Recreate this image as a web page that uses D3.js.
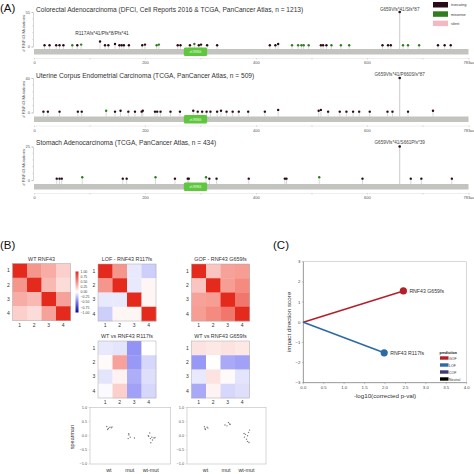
<!DOCTYPE html>
<html><head><meta charset="utf-8">
<script src="https://cdn.jsdelivr.net/npm/d3@7"></script>
<style>body{margin:0;background:#fff}svg{font-family:"Liberation Sans",Arial,sans-serif;display:block}</style>
</head><body><svg id="c" width="474" height="474"></svg>
<script>
// ---------- DATA ----------
const proteinLength = 783;
const aaTickLabels = [0, 200, 400, 600];
const aaMinorTicks = [100, 300, 500, 700];
const studyTitles = [
  "Colorectal Adenocarcinoma (DFCI, Cell Reports 2016 & TCGA, PanCancer Atlas, n = 1213)",
  "Uterine Corpus Endometrial Carcinoma (TCGA, PanCancer Atlas, n = 509)",
  "Stomach Adenocarcinoma (TCGA, PanCancer Atlas, n = 434)"
];
const studyYMax = [55, 40, 25];
const hotspotPos = 659;
const hotspotCounts = [55, 40, 25];
const hotspotLabels = ["G659Vfs*41/Sfs*87", "G659Vfs*41/P660Sfs*87", "G659Vfs*41/S661Pfs*39"];
const r117Label = "R117Afs*41/Pfs*8/Pfs*41";
const domainName = "zf-RING";
const domainStart = 270, domainEnd = 312;

const crcPos = [19,28,40,46,53, 69,78,85,119,128, 134,146,154,158,162, 171,195,200,221,225, 259,264,281,289,297,
  301,312,330,425,435, 440,465,476,482,486, 495,517,521,527,536, 553,568,628,638,643, 665,674,694,728,740, 751];
const crcCnt = [2,2,2,2,2, 2,2,3,8,2, 2,4,2,2,2, 2,2,3,2,3, 2,2,2,4,2,
  3,2,2,2,2, 4,2,2,2,2, 2,2,2,2,2, 2,2,2,2,2, 2,2,2,2,2, 2];
const crcType = ["T","T","T","T","T", "M","T","M","T","T", "T","T","T","T","T", "T","T","T","M","M", "T","T","T","M","T",
  "T","T","T","T","T", "T","M","M","M","M", "M","T","T","T","M", "M","M","T","T","T", "M","M","M","T","T", "T"];

const ucecPos = [17,25,46,79,86, 130,146,156,170,182, 194,196,218,222,228, 246,263,287,295,303,
  311,318,330,337,347, 358,369,386,416,440, 513,517,530,551,563, 575,586,605,637,646, 674,719];
const ucecCnt = [1,1,1,1,1, 2,1,2,1,1, 1,2,1,1,1, 1,1,2,1,1, 1,1,1,2,1, 1,1,1,1,3, 2,3,1,1,1, 1,1,1,1,1, 1,2];
const ucecType = ["T","T","T","T","T", "M","T","T","T","T", "T","T","T","T","T", "T","T","T","T","T",
  "T","T","T","T","T", "T","T","T","T","T", "T","T","T","T","T", "T","T","T","T","T", "T","T"];

const stadPos = [41,46,50,87,160, 167,219,254,277,279, 310,316,329,387,452, 455,514,592,679,698, 753];
const stadCnt = [1,1,1,2,1, 1,2,1,1,1, 2,1,1,1,1, 1,2,1,1,1, 1];
const stadType = ["T","T","T","M","T", "T","M","T","T","T", "M","T","T","T","T", "T","M","T","T","T", "T"];

const mutClasses = ["truncating", "missense", "silent"];
const mutColors = ["#2a0a14", "#2f7d1f", "#f4b8c4"];

const heatLabels = ["1","2","3","4"];
const heatTitles = ["WT RNF43", "LOF - RNF43 R117fs", "GOF - RNF43 G659fs", "WT vs RNF43 R117fs", "WT vs RNF43 G659fs"];
const heatWT  = [[1,0.45,0.35,0.2],[0.45,1,0.3,0.15],[0.35,0.3,1,0.4],[0.2,0.15,0.4,1]];
const heatLOF = [[1,0.45,-0.08,-0.18],[0.45,1,-0.08,0.04],[-0.08,-0.08,1,0.04],[-0.18,0.04,0.04,1]];
const heatGOF = [[1,0.25,0.4,0.42],[0.25,1,0.42,0.5],[0.4,0.42,1,0.6],[0.42,0.5,0.6,1]];
const heatWTvsLOF = [[-0.08,-0.1,-0.4,0.0],[0.02,0.4,-0.38,-0.15],[-0.1,0.05,-0.3,-0.12],[-0.02,0.2,-0.35,-0.15]];
const heatWTvsGOF = [[0.12,0.1,0.12,0.1],[-0.38,0.0,-0.32,-0.35],[-0.08,0.12,0.02,-0.1],[-0.32,0.05,-0.15,-0.12]];
const colorbarTicks = [1,0.75,0.5,0.25,0,-0.25,-0.5,-0.75,-1];

const scatterCats = ["wt", "mut", "wt-mut"];
const scatterYTicks = [1, 0.5, 0, -0.5, -1];
const scatL_wt = [0.33,0.30,0.28,0.26,0.22,0.31];
const scatL_wtJ = [-0.1,0.05,0.12,-0.02,-0.06,0.15];
const scatL_mut = [0.07,0.03,-0.05,-0.10,-0.08];
const scatL_mutJ = [-0.05,-0.05,0.02,-0.08,0.22];
const scatL_wm = [0.10,-0.02,-0.05,-0.08,-0.10,-0.06,-0.25,-0.15,0.0];
const scatL_wmJ = [-0.05,-0.1,0.05,0.15,-0.02,0.2,0.0,0.08,-0.12];
const scatR_wt = [0.32,0.30,0.27,0.25,0.22];
const scatR_wtJ = [-0.05,0.08,0.12,-0.02,0.0];
const scatR_mut = [0.47,0.42,0.38,0.35,0.40];
const scatR_mutJ = [0.12,0.18,-0.05,0.05,0.2];
const scatR_wm = [0.20,0.12,0.05,0.0,-0.05,-0.12,-0.20,-0.24,0.08];
const scatR_wmJ = [0.15,0.1,-0.05,0.05,-0.1,0.0,0.05,0.12,-0.12];

const predNames = ["RNF43 G659fs", "RNF43 R117fs"];
const predX = [2.45, 1.98];
const predY = [1.55, -1.52];
const predClass = ["GOF", "LOF"];
const legendClasses = ["GOF", "LOF", "COF", "Neutral"];
const legendColors = ["#b3202c", "#2c6aa6", "#3c3a7a", "#000000"];
const cXTicks = [0,0.5,1,1.5,2,2.5,3,3.5,4];
const cYTicks = [3,2,1,0,-1,-2,-3];

// ---------- DRAW ----------
const svg = d3.select("#c");
const txt = (x, y, s, size, opts = {}) => {
  const t = svg.append("text").attr("x", x).attr("y", y).attr("font-size", size).text(s)
    .attr("fill", opts.fill || "#222");
  if (opts.anchor) t.attr("text-anchor", opts.anchor);
  if (opts.rotate) t.attr("transform", `rotate(-90,${x},${y})`);
  if (opts.weight) t.attr("font-weight", opts.weight);
  return t;
};

txt(0, 12, "(A)", 11.5, {fill: "#111"});
txt(0, 249, "(B)", 11.5, {fill: "#111"});
txt(273, 249, "(C)", 11.5, {fill: "#111"});

// Panel A lollipops
const xAA = d3.scaleLinear().domain([0, proteinLength]).range([34, 468.5]);
const studies = [
  {pos: crcPos, cnt: crcCnt, type: crcType},
  {pos: ucecPos, cnt: ucecCnt, type: ucecType},
  {pos: stadPos, cnt: stadCnt, type: stadType}
];
const lay = [
  {top: 12, zero: 46.5, bar: 49, title: 11.5, label: 10.5},
  {top: 78, zero: 112.5, bar: 116.5, title: 77.5, label: 75.5},
  {top: 146.5, zero: 180, bar: 184, title: 144.5, label: 143.5}
];
const typeColor = t => t === "T" ? mutColors[0] : mutColors[1];

studies.forEach((s, i) => {
  const L = lay[i];
  const y = d3.scaleLinear().domain([0, studyYMax[i]]).range([L.zero, L.top]);
  txt(36, L.title, studyTitles[i], 6.6, {fill: "#333"});
  // y axis
  const ya = svg.append("g").attr("transform", "translate(33,0)")
    .call(d3.axisLeft(y).tickValues([0, studyYMax[i]]).tickSize(1.5).tickPadding(1.5));
  ya.selectAll("text").attr("font-size", 4).attr("fill", "#555");
  ya.selectAll("line,path").attr("stroke", "#aaa").attr("stroke-width", 0.5);
  const minor = d3.range(1, 5).map(k => studyYMax[i] * k / 5);
  svg.append("g").selectAll("line").data(minor).join("line")
    .attr("x1", 32).attr("x2", 33).attr("y1", d => y(d)).attr("y2", d => y(d))
    .attr("stroke", "#bbb").attr("stroke-width", 0.4);
  txt(25, (L.top + L.zero) / 2 + 4, "# RNF43 Mutations", 4.3, {anchor: "middle", rotate: true, fill: "#555"});
  // protein bar
  svg.append("rect").attr("x", xAA(0)).attr("y", L.bar).attr("width", xAA(proteinLength) - xAA(0))
    .attr("height", 5.5).attr("fill", "#c3c3c0");
  // stems
  svg.append("g").selectAll("line").data(s.pos).join("line")
    .attr("x1", d => xAA(d)).attr("x2", d => xAA(d))
    .attr("y1", L.bar).attr("y2", (d, j) => y(s.cnt[j]))
    .attr("stroke", "#b5b5b5").attr("stroke-width", 0.5);
  // hotspot
  svg.append("line").attr("x1", xAA(hotspotPos)).attr("x2", xAA(hotspotPos))
    .attr("y1", L.bar).attr("y2", y(hotspotCounts[i])).attr("stroke", "#b5b5b5").attr("stroke-width", 0.7);
  svg.append("circle").attr("cx", xAA(hotspotPos)).attr("cy", y(hotspotCounts[i])).attr("r", 1.3).attr("fill", mutColors[0]);
  txt(xAA(hotspotPos), L.label, hotspotLabels[i], 4.6, {anchor: "middle", fill: "#444"});
  // heads
  svg.append("g").selectAll("circle").data(s.pos).join("circle")
    .attr("cx", d => xAA(d)).attr("cy", (d, j) => y(s.cnt[j])).attr("r", 1.2)
    .attr("fill", (d, j) => typeColor(s.type[j]));
  // domain
  svg.append("rect").attr("x", xAA(domainStart)).attr("y", L.bar - 1.5).attr("width", xAA(domainEnd) - xAA(domainStart))
    .attr("height", 8.5).attr("rx", 1.5).attr("fill", "#5fc63d");
  txt((xAA(domainStart) + xAA(domainEnd)) / 2, L.bar + 4.3, domainName, 3.3, {anchor: "middle", fill: "#eaffea"});
  // x axis
  const xa = svg.append("g").attr("transform", `translate(0,${L.bar + 9})`)
    .call(d3.axisBottom(xAA).tickValues(aaTickLabels.concat(aaMinorTicks, [proteinLength]))
      .tickFormat(d => aaTickLabels.includes(d) ? d : (d === proteinLength ? "783aa" : "")).tickSize(1.5).tickPadding(2));
  xa.selectAll("text").attr("font-size", 4).attr("fill", "#555");
  xa.selectAll("line").attr("stroke", "#bbb").attr("stroke-width", 0.5);
  xa.select("path").attr("stroke", "#ddd").attr("stroke-width", 0.5);
  if (i === 0) {
    txt(xAA(119) + 2, 34.5, r117Label, 4.8, {anchor: "middle", fill: "#333"});
    mutClasses.forEach((m, k) => {
      svg.append("rect").attr("x", 433).attr("y", 2 + k * 9.3).attr("width", 15).attr("height", 5.5).attr("fill", mutColors[k]);
      txt(451, 6.2 + k * 9.3, m, 3.5, {fill: "#333"});
    });
  }
});

// Panel B heatmaps
const cmap = d3.scaleLinear().domain([-1, -0.5, 0, 0.5, 1])
  .range(["#07079a", "#7878f4", "#ffffff", "#f48a80", "#e42a1c"]).interpolate(d3.interpolateRgb).clamp(true);
const heatSpecs = [
  {m: heatWT, x: 12.5, y: 263.5, t: heatTitles[0]},
  {m: heatLOF, x: 98, y: 264, t: heatTitles[1]},
  {m: heatGOF, x: 191.5, y: 264, t: heatTitles[2]},
  {m: heatWTvsLOF, x: 98, y: 341, t: heatTitles[3]},
  {m: heatWTvsGOF, x: 191.5, y: 341, t: heatTitles[4]}
];
heatSpecs.forEach(h => {
  const bx = d3.scaleBand().domain(heatLabels).range([h.x, h.x + 58]);
  const by = d3.scaleBand().domain(heatLabels).range([h.y, h.y + 57]);
  const cells = [];
  h.m.forEach((row, r) => row.forEach((v, c) => cells.push({r: heatLabels[r], c: heatLabels[c], v})));
  svg.append("g").selectAll("rect").data(cells).join("rect")
    .attr("x", d => bx(d.c)).attr("y", d => by(d.r)).attr("width", bx.bandwidth() + 0.3).attr("height", by.bandwidth() + 0.3)
    .attr("fill", d => cmap(d.v));
  svg.append("rect").attr("x", h.x).attr("y", h.y).attr("width", 58).attr("height", 57)
    .attr("fill", "none").attr("stroke", "#aaa").attr("stroke-width", 0.5);
  txt(h.x + 29, h.y - 3, h.t, 5.4, {anchor: "middle", fill: "#333"});
  heatLabels.forEach(l => {
    txt(h.x - 4, by(l) + by.bandwidth() / 2 + 1.7, l, 5, {anchor: "middle", fill: "#333"});
    txt(bx(l) + bx.bandwidth() / 2, h.y + 57 + 6, l, 5, {anchor: "middle", fill: "#333"});
  });
});
// colorbar
const cbY = d3.scaleLinear().domain([1, -1]).range([271.5, 312.5]);
const grad = svg.append("defs").append("linearGradient").attr("id", "cb").attr("x1", 0).attr("x2", 0).attr("y1", 0).attr("y2", 1);
d3.range(0, 1.0001, 0.1).forEach(t => grad.append("stop").attr("offset", t).attr("stop-color", cmap(1 - 2 * t)));
svg.append("rect").attr("x", 75.5).attr("y", cbY(1)).attr("width", 3).attr("height", cbY(-1) - cbY(1)).attr("fill", "url(#cb)");
colorbarTicks.forEach(v => txt(80.5, cbY(v) + 1.2, d3.format(".2f")(v).replace("-", "\u2212"), 3.5, {fill: "#444"}));

// scatter
const scatSpecs = [
  {x0: 90, x1: 170.7, sets: [[scatL_wt, scatL_wtJ], [scatL_mut, scatL_mutJ], [scatL_wm, scatL_wmJ]]},
  {x0: 187, x1: 266, sets: [[scatR_wt, scatR_wtJ], [scatR_mut, scatR_mutJ], [scatR_wm, scatR_wmJ]]}
];
const sy = d3.scaleLinear().domain([-1, 1]).range([464, 407.5]);
scatSpecs.forEach(sp => {
  const sx = d3.scaleLinear().domain([-0.9, 2.95]).range([sp.x0, sp.x1]);
  svg.append("rect").attr("x", sp.x0).attr("y", sy(1)).attr("width", sp.x1 - sp.x0).attr("height", sy(-1) - sy(1))
    .attr("fill", "none").attr("stroke", "#bbb").attr("stroke-width", 0.6);
  scatterYTicks.forEach(v => {
    txt(sp.x0 - 3, sy(v) + 1.3, d3.format(".1f")(v).replace("-", "\u2212"), 3.8, {anchor: "end", fill: "#555"});
    svg.append("line").attr("x1", sp.x0 - 1.5).attr("x2", sp.x0).attr("y1", sy(v)).attr("y2", sy(v)).attr("stroke", "#bbb").attr("stroke-width", 0.4);
  });
  scatterCats.forEach((c, k) => {
    txt(sx(k), 472, c, 5.4, {anchor: "middle", fill: "#333"});
    const [vals, jit] = sp.sets[k];
    svg.append("g").selectAll("circle").data(vals).join("circle")
      .attr("cx", (d, j) => sx(k + jit[j])).attr("cy", d => sy(d)).attr("r", 0.7).attr("fill", "#777");
  });
});
txt(74, 437, "spearman", 5.5, {anchor: "middle", rotate: true, fill: "#333"});

// Panel C
const cx = d3.scaleLinear().domain([0, 4]).range([303.3, 466.7]);
const cy = d3.scaleLinear().domain([-3, 3]).range([382.7, 261.7]);
svg.append("rect").attr("x", cx(0)).attr("y", cy(3)).attr("width", cx(4) - cx(0)).attr("height", cy(-3) - cy(3))
  .attr("fill", "none").attr("stroke", "#bbb").attr("stroke-width", 0.6);
svg.append("line").attr("x1", cx(0)).attr("x2", cx(0)).attr("y1", cy(3)).attr("y2", cy(-3)).attr("stroke", "#777").attr("stroke-width", 0.6);
svg.append("line").attr("x1", cx(0)).attr("x2", cx(4)).attr("y1", cy(-3)).attr("y2", cy(-3)).attr("stroke", "#777").attr("stroke-width", 0.6);
cXTicks.forEach(v => {
  svg.append("line").attr("x1", cx(v)).attr("x2", cx(v)).attr("y1", cy(-3)).attr("y2", cy(-3) + 1.5).attr("stroke", "#777").attr("stroke-width", 0.4);
  txt(cx(v), cy(-3) + 6, d3.format(".1f")(v), 4.3, {anchor: "middle", fill: "#444"});
});
cYTicks.forEach(v => {
  svg.append("line").attr("x1", cx(0) - 1.5).attr("x2", cx(0)).attr("y1", cy(v)).attr("y2", cy(v)).attr("stroke", "#777").attr("stroke-width", 0.4);
  txt(cx(0) - 3, cy(v) + 1.5, d3.format("d")(v).replace("-", "\u2212"), 4.3, {anchor: "end", fill: "#444"});
});
txt(385, 397.5, "-log10(corrected p-val)", 6.2, {anchor: "middle", fill: "#333"});
txt(291, 322, "impact direction score", 6.2, {anchor: "middle", rotate: true, fill: "#333"});
const clsColor = c => legendColors[legendClasses.indexOf(c)];
predNames.forEach((n, k) => {
  svg.append("line").attr("x1", cx(0)).attr("y1", cy(0)).attr("x2", cx(predX[k])).attr("y2", cy(predY[k]))
    .attr("stroke", clsColor(predClass[k])).attr("stroke-width", 1.6);
  svg.append("circle").attr("cx", cx(predX[k])).attr("cy", cy(predY[k])).attr("r", 3.6).attr("fill", clsColor(predClass[k]));
  txt(cx(predX[k]) + 6, cy(predY[k]) + 1.8, n, 5.2, {fill: "#333"});
});
txt(439.5, 354, "prediction", 3.6, {fill: "#111", weight: "bold"});
legendClasses.forEach((c, k) => {
  svg.append("rect").attr("x", 440).attr("y", 356.3 + k * 7).attr("width", 8.5).attr("height", 3.4).attr("fill", legendColors[k]);
  txt(449, 359.5 + k * 7, c, 3.5, {fill: "#333"});
});
</script></body></html>
